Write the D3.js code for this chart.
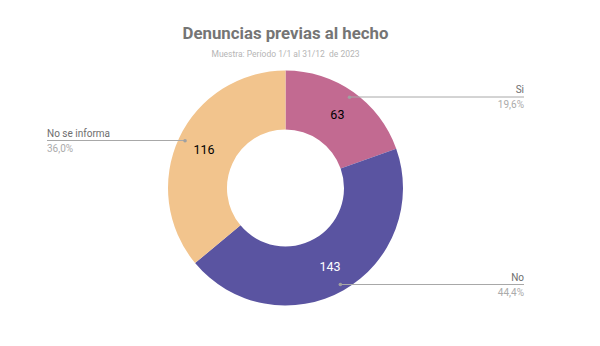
<!DOCTYPE html>
<html>
<head>
<meta charset="utf-8">
<script src="https://cdn.jsdelivr.net/npm/d3@7"></script>
<style>
  html, body { margin: 0; padding: 0; background: #fff; }
  svg { display: block; font-family: Roboto, "Noto Sans", sans-serif; }
</style>
</head>
<body>
<svg id="chart" width="600" height="346"></svg>
<script>
// Denuncias previas al hecho — donut with side callouts
const categories = ["Si", "No", "No se informa"];
const values = [63, 143, 116];
const colors = ["#C26A91", "#5A54A1", "#F2C48D"];
const valueTextColors = ["#000000", "#ffffff", "#000000"];
// callout side: +1 right, -1 left
const calloutSide = [1, 1, -1];
const calloutY = [97, 284.5, 140.5];

const svg = d3.select("#chart");
const cx = 285.5, cy = 188, outerR = 117.5, innerR = 58.5;

svg.append("text")
  .attr("x", 285.5).attr("y", 39)
  .attr("text-anchor", "middle")
  .attr("font-size", 16.8).attr("font-weight", "bold")
  .attr("fill", "#757575")
  .text("Denuncias previas al hecho");

svg.append("text")
  .attr("x", 285.5).attr("y", 57)
  .attr("text-anchor", "middle")
  .attr("font-size", 8.5)
  .attr("fill", "#b5b5b5")
  .attr("xml:space", "preserve")
  .text("Muestra: Período 1/1 al 31/12  de 2023");

const data = categories.map((c, i) => ({ cat: c, value: values[i], i }));
const total = d3.sum(values);

const pie = d3.pie().value(d => d.value).sort(null);
const arcs = pie(data);
const arc = d3.arc().innerRadius(innerR).outerRadius(outerR);
const labelArc = d3.arc().innerRadius(90).outerRadius(90);
const pointArc = d3.arc().innerRadius(111).outerRadius(111);

const g = svg.append("g").attr("transform", `translate(${cx},${cy})`);

g.selectAll("path.slice")
  .data(arcs)
  .join("path")
  .attr("class", "slice")
  .attr("d", arc)
  .attr("fill", d => colors[d.data.i]);

g.selectAll("text.val")
  .data(arcs)
  .join("text")
  .attr("class", "val")
  .attr("transform", d => `translate(${labelArc.centroid(d)})`)
  .attr("text-anchor", "middle")
  .attr("dy", "0.35em")
  .attr("font-size", 12.5)
  .attr("fill", d => valueTextColors[d.data.i])
  .text(d => d.data.value);

const fmt = v => (v * 100).toFixed(1).replace(".", ",") + "%";
const rightX = 524, leftX = 47;

arcs.forEach(d => {
  const i = d.data.i;
  const p = pointArc.centroid(d);
  const px = cx + p[0], py = cy + p[1];
  const ly = calloutY[i];
  const endX = calloutSide[i] > 0 ? rightX : leftX;
  svg.append("line")
    .attr("x1", px).attr("y1", ly)
    .attr("x2", endX).attr("y2", ly)
    .attr("stroke", "#a8a8a8").attr("stroke-width", 1);
  svg.append("circle")
    .attr("cx", px).attr("cy", py).attr("r", 1.8)
    .attr("fill", "#a0a0a0");
  const anchor = calloutSide[i] > 0 ? "end" : "start";
  svg.append("text")
    .attr("x", endX).attr("y", ly - 3.8)
    .attr("text-anchor", anchor)
    .attr("font-size", 10)
    .attr("fill", "#6e6e6e")
    .text(d.data.cat);
  svg.append("text")
    .attr("x", endX).attr("y", ly + 11.2)
    .attr("text-anchor", anchor)
    .attr("font-size", 10)
    .attr("fill", "#ababab")
    .text(fmt(d.data.value / total));
});
</script>
</body>
</html>
